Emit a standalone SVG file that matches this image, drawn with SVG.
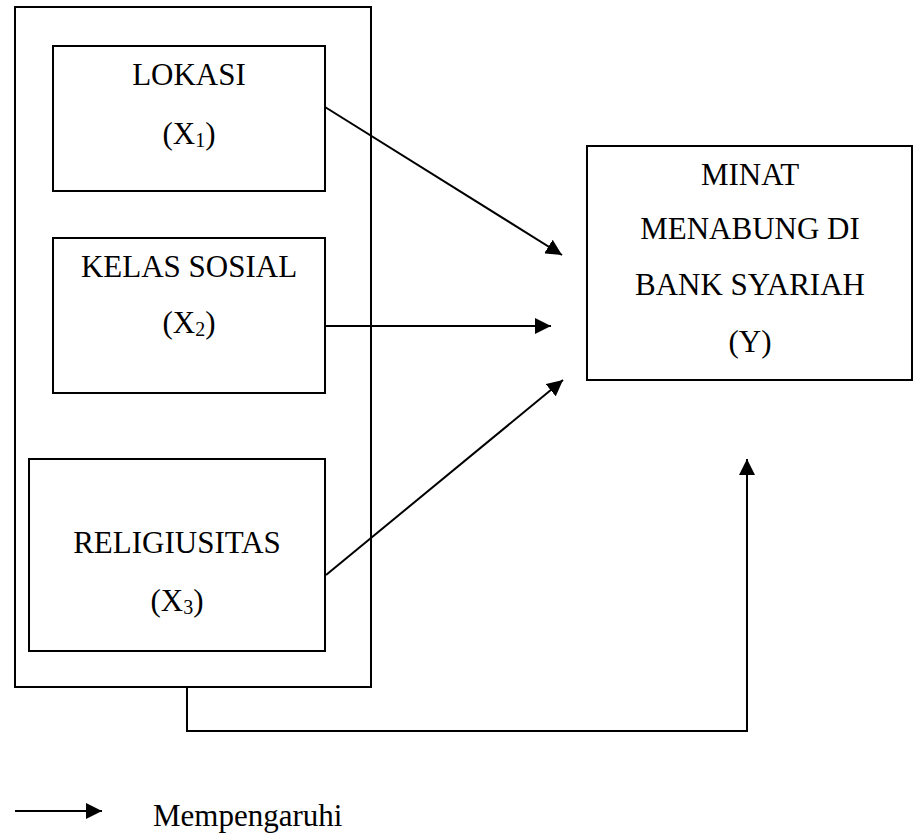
<svg xmlns="http://www.w3.org/2000/svg" width="913" height="836" viewBox="0 0 913 836">
<style>
.box{fill:none;stroke:#000;stroke-width:2}
.con{fill:none;stroke:#000;stroke-width:2}
</style>
<defs>
<marker id="ah" markerUnits="userSpaceOnUse" markerWidth="16" markerHeight="16" refX="16" refY="8" orient="auto" viewBox="0 0 16 16">
<path d="M0,0 L16,8 L0,16 z" fill="#000"/>
</marker>
</defs>
<rect width="913" height="836" fill="#fff"/>
<g font-family="'Liberation Serif', 'Times New Roman', serif" font-size="31" fill="#000" text-anchor="middle">
<g id="group-x">
<rect class="box" x="15" y="7" width="356" height="680"/>
</g>
<g id="lokasi">
<rect class="box" x="53" y="46" width="272" height="145"/>
<text x="189" y="85">LOKASI</text>
<text x="189" y="144">(X<tspan font-size="20" dy="3">1</tspan><tspan dy="-3">)</tspan></text>
</g>
<g id="kelas">
<rect class="box" x="53" y="238" width="272" height="155"/>
<text x="189" y="277">KELAS SOSIAL</text>
<text x="189" y="333">(X<tspan font-size="20" dy="3">2</tspan><tspan dy="-3">)</tspan></text>
</g>
<g id="religiusitas">
<rect class="box" x="29" y="459" width="296" height="192"/>
<text x="177" y="553">RELIGIUSITAS</text>
<text x="177" y="611">(X<tspan font-size="20" dy="3">3</tspan><tspan dy="-3">)</tspan></text>
</g>
<g id="minat">
<rect class="box" x="587" y="146" width="325" height="234"/>
<text x="750" y="185">MINAT</text>
<text x="750" y="239">MENABUNG DI</text>
<text x="750" y="295">BANK SYARIAH</text>
<text x="750" y="352">(Y)</text>
</g>
<g id="connectors">
<line class="con" x1="325" y1="107" x2="562" y2="255" marker-end="url(#ah)"/>
<line class="con" x1="325" y1="326" x2="551" y2="326" marker-end="url(#ah)"/>
<line class="con" x1="326" y1="575" x2="563" y2="380" marker-end="url(#ah)"/>
<polyline class="con" points="187,687 187,731 747,731 747,459" marker-end="url(#ah)"/>
</g>
<g id="legend">
<line class="con" x1="15" y1="811" x2="102" y2="811" marker-end="url(#ah)"/>
<text x="153" y="826" text-anchor="start">Mempengaruhi</text>
</g>
</g>
</svg>
